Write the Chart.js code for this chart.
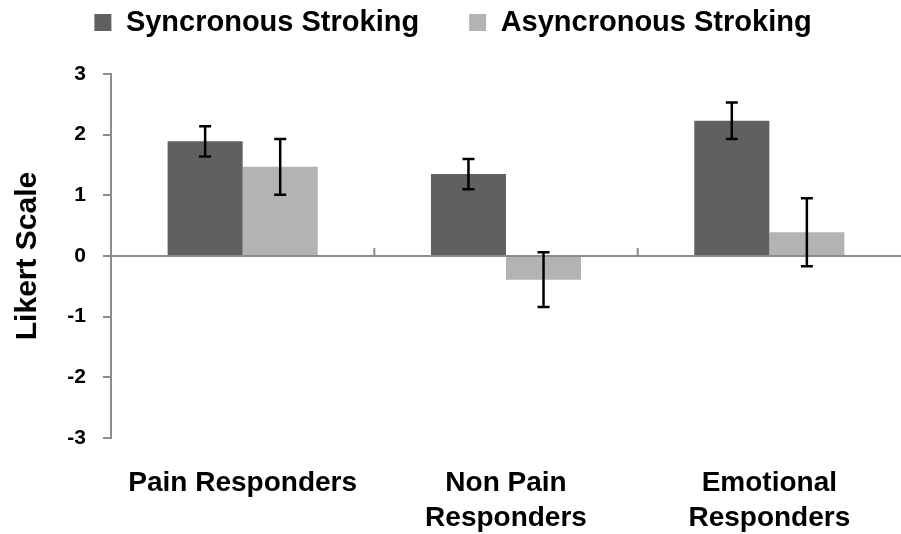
<!DOCTYPE html>
<html>
<head>
<meta charset="utf-8">
<script src="https://cdn.jsdelivr.net/npm/chart.js@4/dist/chart.umd.min.js"></script>
<style>
  html, body { margin: 0; padding: 0; background: #fff; }
  #wrap { width: 901px; height: 534px; }
</style>
</head>
<body>
<div id="wrap"><canvas id="likertChart"></canvas></div>
<script>
const categories = ['Pain Responders', ['Non Pain', 'Responders'], ['Emotional', 'Responders']];
const seriesNames = ['Syncronous Stroking', 'Asyncronous Stroking'];
const syncValues = [1.89, 1.35, 2.23];
const syncErrors = [0.25, 0.25, 0.30];
const asyncValues = [1.47, -0.39, 0.39];
const asyncErrors = [0.46, 0.45, 0.56];
const yMin = -3;
const yMax = 3;

const axisGray = '#8c8c8c';
const fontFamily = '"Liberation Sans", Arial, sans-serif';
const legendPad = 50;

// make room between the legend and the plot
const legendMargin = {
    id: 'legendMargin',
    beforeInit(chart) {
        const fit = chart.legend.fit;
        chart.legend.fit = function () {
            fit.call(chart.legend);
            this.height += 27;
        };
    }
};

// error bars, drawn from the dataset's own errors array
const errorBars = {
    id: 'errorBars',
    afterDatasetsDraw(chart) {
        const ctx = chart.ctx;
        const y = chart.scales.y;
        ctx.save();
        ctx.strokeStyle = '#000';
        ctx.lineWidth = 2.5;
        chart.data.datasets.forEach((ds, di) => {
            const meta = chart.getDatasetMeta(di);
            meta.data.forEach((bar, i) => {
                const v = ds.data[i], e = ds.errors[i];
                const top = y.getPixelForValue(v + e);
                const bot = y.getPixelForValue(v - e);
                ctx.beginPath();
                ctx.moveTo(bar.x, top); ctx.lineTo(bar.x, bot);
                ctx.moveTo(bar.x - 6, top); ctx.lineTo(bar.x + 6, top);
                ctx.moveTo(bar.x - 6, bot); ctx.lineTo(bar.x + 6, bot);
                ctx.stroke();
            });
        });
        ctx.restore();
    }
};

// small category tick marks sitting on the zero line
const zeroTicks = {
    id: 'zeroTicks',
    beforeDatasetsDraw(chart) {
        const ctx = chart.ctx;
        const x = chart.scales.x, y = chart.scales.y;
        const y0 = y.getPixelForValue(0);
        ctx.save();
        ctx.strokeStyle = axisGray;
        ctx.lineWidth = 2;
        for (let i = 1; i < categories.length; i++) {
            const px = (x.getPixelForValue(i - 1) + x.getPixelForValue(i)) / 2;
            ctx.beginPath();
            ctx.moveTo(px, y0);
            ctx.lineTo(px, y0 - 8);
            ctx.stroke();
        }
        ctx.restore();
    }
};

new Chart(document.getElementById('likertChart'), {
    type: 'bar',
    data: {
        labels: categories,
        datasets: [
            { label: seriesNames[0], data: syncValues, errors: syncErrors, backgroundColor: '#606060' },
            { label: seriesNames[1], data: asyncValues, errors: asyncErrors, backgroundColor: '#b3b3b3' }
        ]
    },
    options: {
        responsive: true,
        maintainAspectRatio: false,
        animation: false,
        layout: { padding: { top: 8 - legendPad, right: -5 } },
        datasets: {
            bar: { categoryPercentage: 0.57, barPercentage: 1.0, borderWidth: 0 }
        },
        plugins: {
            tooltip: { enabled: false },
            legend: {
                position: 'top',
                labels: {
                    boxWidth: 17,
                    boxHeight: 17,
                    padding: legendPad,
                    color: '#000',
                    font: { family: fontFamily, size: 29, weight: 'bold' }
                }
            }
        },
        scales: {
            x: {
                grid: { display: false, drawTicks: false },
                border: { display: false },
                ticks: {
                    color: '#000',
                    padding: 28,
                    maxRotation: 0,
                    font: { family: fontFamily, size: 28, weight: 'bold', lineHeight: 1.25 }
                },
                afterFit(scale) { scale.height = 96; }
            },
            y: {
                min: yMin,
                max: yMax,
                ticks: {
                    stepSize: 1,
                    color: '#000',
                    padding: 17,
                    font: { family: fontFamily, size: 21, weight: 'bold' }
                },
                grid: {
                    color: c => (c.tick && c.tick.value === 0 ? axisGray : 'rgba(0,0,0,0)'),
                    lineWidth: 2,
                    tickColor: axisGray,
                    tickLength: 8
                },
                border: { display: true, color: axisGray, width: 2 },
                title: {
                    display: true,
                    text: 'Likert Scale',
                    color: '#000',
                    padding: { top: 10, bottom: 0 },
                    font: { family: fontFamily, size: 30, weight: 'bold', lineHeight: 1.2 }
                },
                afterFit(scale) { scale.width = 111; }
            }
        }
    },
    plugins: [legendMargin, zeroTicks, errorBars]
});
</script>
</body>
</html>
